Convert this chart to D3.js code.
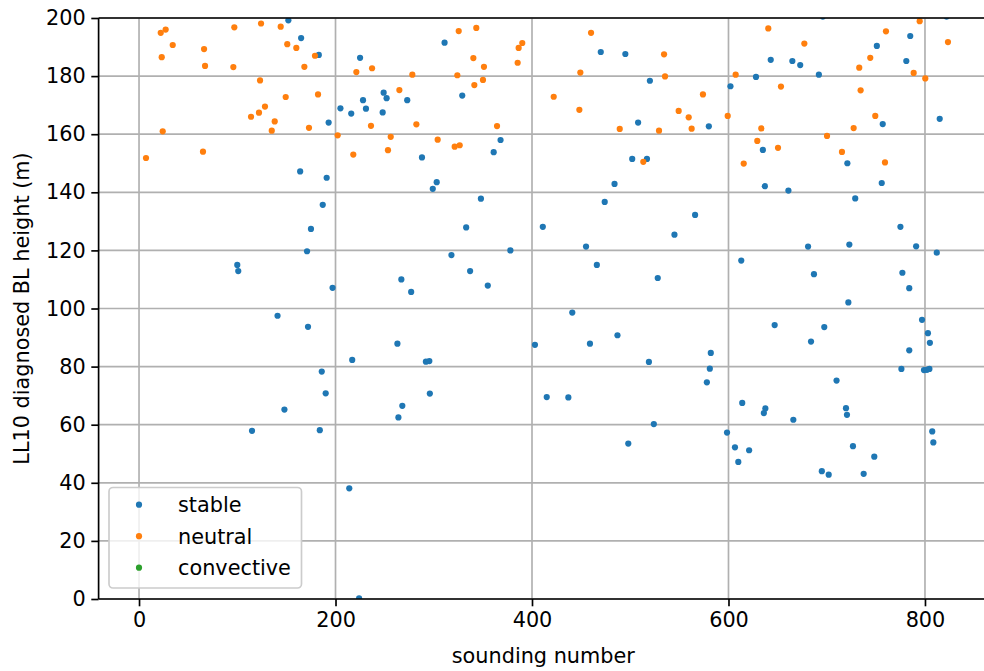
<!DOCTYPE html>
<html><head><meta charset="utf-8">
<script src="https://cdn.jsdelivr.net/npm/d3@7"></script>
<style>body{margin:0;background:#fff}svg{display:block}text{font-family:"DejaVu Sans",sans-serif}</style>
</head><body>
<script>
const stable = [
[152,199.2],[165,193.1],[183,187.3],[164,147.2],[187,135.7],[193,164.0],[191,145.0],[311,191.5],[225,186.3],[249,174.3],
[252,172.4],[228,171.7],[273,171.7],[329,173.3],[205,168.9],[231,168.8],[216,167.1],[248,167.5],[368,158.0],[361,153.8],
[288,152.0],[303,143.5],[299,141.2],[348,137.8],[470,188.3],[495,187.6],[520,178.4],[628,179.7],[602,176.5],[508,164.0],
[580,162.7],[635,154.6],[502,151.5],[517,151.5],[484,142.9],[474,136.7],[637,142.1],[785,193.8],[751,190.4],[643,185.6],
[665,185.2],[673,183.8],[781,185.2],[692,180.5],[757,163.5],[815,165.3],[721,150.0],[756,143.2],[661,140.6],[729,137.9],
[696,200.5],[822,200.5],[175,127.4],[171,119.7],[100,115.0],[101,112.9],[141,97.5],[172,93.7],[186,78.3],[190,70.8],
[148,65.2],[333,127.9],[411,128.1],[318,118.4],[378,120.0],[337,112.9],[267,110.0],[197,107.1],[277,105.7],[355,107.9],
[263,87.9],[403,87.5],[217,82.3],[292,81.7],[295.5,81.9],[296,70.7],[268,66.5],[566,132.2],[545,125.4],[455,121.3],
[466,115.0],[528,110.5],[613,116.5],[441,98.6],[487,90.8],[459,87.9],[582,84.7],[519,81.6],[581,79.3],[578,74.6],
[415,69.5],[437,69.4],[614,67.5],[775,128.1],[681,121.3],[723,122.0],[791,121.4],[812,119.2],[687,111.8],[777,112.3],
[784,107.0],[722,102.1],[647,94.3],[697.5,93.6],[797,96.1],[803,91.5],[805,88.2],[684,88.6],[784,85.6],[776,79.2],
[799,78.8],[802,78.9],[804.5,79.2],[710,75.2],[637.5,65.6],[636,64.0],[666,61.7],[719.6,65.7],[720.6,63.4],[807.4,57.7],
[808.5,53.9],[726.7,52.6],[748.4,49.0],[695,44.0],[702,42.8],[737.6,43.1],[115,57.9],[184,58.1],[264,62.5],[214,38.1],
[224,0.2],[524,60.2],[498,53.5],[598.5,57.3],[606.6,52.2],[621,51.2],[610,47.2]
];
const neutral = [
[22.1,194.9],[27.1,196.0],[97.0,196.8],[124.2,198.1],[144.2,197.0],[34.3,190.7],[66.2,189.3],[150.9,191.0],[160.1,189.7],[23.1,186.5],
[179.1,187.0],[67.2,183.5],[96.0,183.1],[168.3,183.2],[123.2,178.5],[149.3,172.8],[182.2,173.7],[128.2,169.5],[122.1,167.4],[114.0,166.0],
[138.1,164.4],[135.1,161.2],[173.0,162.2],[24.1,161.0],[65.1,154.0],[7.1,151.8],[325.4,195.5],[343.3,196.6],[390.1,191.4],[386.4,189.7],
[340.3,186.2],[351.1,183.2],[385.4,184.6],[221.2,181.4],[237.2,182.7],[278.2,180.5],[324.0,180.3],[341.3,176.9],[350.1,178.7],[265.0,175.2],
[236.1,162.9],[282.3,163.4],[364.4,162.8],[202.2,159.6],[256.2,159.1],[304.0,158.1],[321.3,155.7],[326.4,156.2],[218.1,153.0],[253.4,154.5],
[460.1,194.9],[534.4,187.5],[449.2,181.2],[535.4,179.9],[607.3,180.5],[422.1,172.9],[574.0,173.7],[448.2,168.4],[549.3,168.0],[559.5,165.8],
[599.2,166.3],[489.3,161.8],[529.3,161.2],[562.5,161.9],[633.4,162.0],[629.3,157.7],[513.3,150.5],[615.5,149.9],[640.5,196.4],[760.3,195.4],
[794.6,198.9],[823.4,191.7],[677.2,191.2],[744.3,186.3],[733.1,182.9],[788.5,181.1],[800.3,179.2],[653.4,176.4],[734.5,175.1],[749.4,166.3],
[727.4,162.1],[650.4,155.3],[700.3,159.4],[715.5,153.9],[759.3,150.3]
];
const convective = [];
const seriesNames = ["stable","neutral","convective"];
const seriesColors = ["#1f77b4","#ff7f0e","#2ca02c"];
const xTicks = [0,200,400,600,800];
const yTicks = [0,20,40,60,80,100,120,140,160,180,200];

const W = 984, H = 671;
const svg = d3.select("body").append("svg").attr("width", W).attr("height", H);
const L = 98.6, R = 988.0, T = 18, B = 599;
const x = d3.scaleLinear().domain([-41.15, 864.15]).range([L, R]);
const y = d3.scaleLinear().domain([0, 200]).range([B, T]);
const fs = 20.8;

svg.append("defs").append("clipPath").attr("id","clip")
  .append("rect").attr("x",L).attr("y",T).attr("width",R-L).attr("height",B-T);

// grid
const g = svg.append("g");
g.selectAll(".gx").data(xTicks).join("line")
  .attr("x1",d=>x(d)).attr("x2",d=>x(d)).attr("y1",T).attr("y2",B)
  .attr("stroke","#b0b0b0").attr("stroke-width",1.67);
g.selectAll(".gy").data(yTicks).join("line")
  .attr("x1",L).attr("x2",R).attr("y1",d=>y(d)).attr("y2",d=>y(d))
  .attr("stroke","#b0b0b0").attr("stroke-width",1.67);

// points
const pts = svg.append("g").attr("clip-path","url(#clip)");
[stable, neutral, convective].forEach((data, i) => {
  pts.append("g").selectAll("circle").data(data).join("circle")
    .attr("cx", d => x(d[0])).attr("cy", d => y(d[1])).attr("r", 3.1)
    .attr("fill", seriesColors[i]);
});

// axes
const xAxis = d3.axisBottom(x).tickValues(xTicks).tickSize(7.3).tickPadding(5.5).tickFormat(d3.format("d"));
const yAxis = d3.axisLeft(y).tickValues(yTicks).tickSize(7.3).tickPadding(5.5).tickFormat(d3.format("d"));
const gx = svg.append("g").attr("transform",`translate(0,${B})`).call(xAxis);
const gy = svg.append("g").attr("transform",`translate(${L},0)`).call(yAxis);
[gx, gy].forEach(a => {
  a.select(".domain").remove();
  a.selectAll(".tick line").attr("stroke","#000").attr("stroke-width",1.67);
  a.selectAll(".tick text").attr("font-size",fs).attr("fill","#000").attr("font-family","DejaVu Sans");
});
// spines
const sp = svg.append("g").attr("stroke","#000").attr("stroke-width",1.67).attr("fill","none");
sp.append("line").attr("x1",L).attr("x2",L).attr("y1",T).attr("y2",B);
sp.append("line").attr("x1",L).attr("x2",R).attr("y1",B).attr("y2",B);
sp.append("line").attr("x1",L).attr("x2",R).attr("y1",T).attr("y2",T);
sp.append("line").attr("x1",R).attr("x2",R).attr("y1",T).attr("y2",B);

// labels
svg.append("text").attr("x",(L+R)/2).attr("y",663).attr("text-anchor","middle")
  .attr("font-size",fs).text("sounding number");
svg.append("text").attr("transform",`translate(29,${(T+B)/2}) rotate(-90)`).attr("text-anchor","middle")
  .attr("font-size",fs).text("LL10 diagnosed BL height (m)");

// legend
const lg = svg.append("g");
lg.append("rect").attr("x",109).attr("y",487.5).attr("width",192.5).attr("height",100.5).attr("rx",4)
  .attr("fill","#fff").attr("fill-opacity",0.8).attr("stroke","#cccccc").attr("stroke-width",1.67);
const rowsY = [504.7, 536.2, 567.7];
seriesNames.forEach((n, i) => {
  lg.append("circle").attr("cx",139).attr("cy",rowsY[i]).attr("r",3.1).attr("fill",seriesColors[i]);
  lg.append("text").attr("x",178).attr("y",rowsY[i]).attr("dy","0.36em").attr("font-size",fs).text(n);
});
</script>
</body></html>
